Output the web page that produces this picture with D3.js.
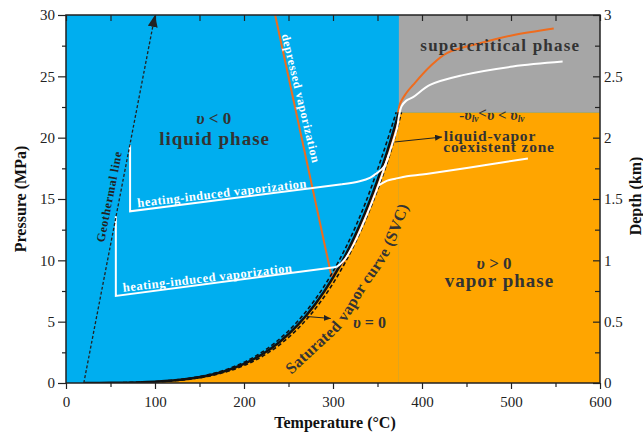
<!DOCTYPE html>
<html>
<head>
<meta charset="utf-8">
<script src="https://cdn.jsdelivr.net/npm/d3@7"></script>
<style>
body { margin: 0; background: #fff; }
svg text { font-family: "Liberation Serif", "Times New Roman", serif; }
</style>
</head>
<body>
<svg id="chart" width="643" height="433"></svg>
<script>
// saturated vapor curve of water (T in °C, P in MPa)
var svcT = [20, 50, 80, 100, 120, 140, 160, 180, 200, 220, 240, 260, 280, 300, 320, 340, 360, 374];
var svcP = [0.002, 0.012, 0.047, 0.101, 0.199, 0.361, 0.618, 1.003, 1.555, 2.320, 3.347, 4.692, 6.417, 8.588, 11.284, 14.601, 18.666, 22.064];
// dashed band either side of the SVC
var svcLoT = [20, 46, 76, 96, 116, 136, 156, 176, 196, 216, 236, 256, 276, 296, 316, 336, 356, 371];
var svcHiT = [20, 54, 84, 104, 124, 144, 164, 184, 204, 224, 244, 264, 284, 304, 324, 344, 364, 377];
var critT = 374, critP = 22.064;

// geothermal line
var geoT = [20, 100];
var geoP = [0, 30];

// depressed vaporization (orange)
var depLegT = [235, 298.5];
var depLegP = [30, 8.64];
var depT = [298.5, 305, 312, 322, 332, 342, 352, 362, 371, 375, 382, 390, 409, 428, 465, 502, 548];
var depP = [8.64, 9.3, 9.9, 11.3, 12.9, 14.6, 16.5, 18.7, 21.0, 22.7, 23.6, 24.3, 25.8, 26.9, 27.7, 28.35, 28.9];

// lower heating-induced path (white)
var lowLegT = [56, 56, 304];
var lowLegP = [13.6, 7.1, 9.45];
var lowT = [304, 309, 314, 323, 333, 343, 353, 363, 372, 374.5, 377, 382, 390, 409, 446, 502, 558];
var lowP = [9.45, 9.75, 10.15, 11.28, 12.86, 14.6, 16.53, 18.67, 20.8, 21.9, 22.55, 23.0, 23.3, 24.3, 25.1, 25.8, 26.2];

// upper heating-induced path (white)
var upLegT = [72, 72, 310];
var upLegP = [19.4, 14.0, 16.2];
var upT = [310, 330, 342, 350, 357, 363];
var upP = [16.2, 16.45, 16.75, 17.15, 17.6, 18.67];

// vapor branch after the upper path crosses the SVC (white)
var vapT = [351, 357, 361, 370, 383, 400, 420, 470, 519];
var vapP = [16.1, 16.35, 16.5, 16.65, 16.85, 17.0, 17.2, 17.75, 18.3];

// axes
var tempTicks = [0, 100, 200, 300, 400, 500, 600];
var tempMinor = [50, 150, 250, 350, 450, 550];
var pressTicks = [0, 5, 10, 15, 20, 25, 30];
var pressMinor = [2.5, 7.5, 12.5, 17.5, 22.5, 27.5];
var depthTicks = [0, 0.5, 1, 1.5, 2, 2.5, 3];
var depthMinor = [0.25, 0.75, 1.25, 1.75, 2.25, 2.75];

var blue = "#00AEEF", orange = "#FFA500", grey = "#A6A6A6", lineOrange = "#EE6C1E", ink = "#333";

var svg = d3.select("#chart");
var x = d3.scaleLinear().domain([0, 600]).range([66, 600]);
var y = d3.scaleLinear().domain([0, 30]).range([383, 15]);
var yd = d3.scaleLinear().domain([0, 3]).range([383, 15]);

function pts(ts, ps) { return ts.map(function(t, i) { return [t, ps[i]]; }); }

var lin = d3.line().x(function(d) { return x(d[0]); }).y(function(d) { return y(d[1]); });
var smooth = d3.line().curve(d3.curveCatmullRom.alpha(0.5)).x(function(d) { return x(d[0]); }).y(function(d) { return y(d[1]); });

var defs = svg.append("defs");
defs.append("clipPath").attr("id", "clip").append("rect")
  .attr("x", x(0)).attr("y", y(30)).attr("width", x(600) - x(0)).attr("height", y(0) - y(30));
defs.append("marker").attr("id", "bigHead").attr("markerUnits", "userSpaceOnUse")
  .attr("markerWidth", 12).attr("markerHeight", 10).attr("refX", 12).attr("refY", 5)
  .attr("orient", "auto")
  .append("path").attr("d", "M0,0 L12,5 L0,10 Z").attr("fill", "#222");
defs.append("marker").attr("id", "smallHead").attr("markerUnits", "userSpaceOnUse")
  .attr("markerWidth", 7).attr("markerHeight", 6).attr("refX", 7).attr("refY", 3)
  .attr("orient", "auto")
  .append("path").attr("d", "M0,0 L7,3 L0,6 Z").attr("fill", "#222");
// guide for the curved SVC caption
defs.append("path").attr("id", "svcLabelPath")
  .attr("d", smooth([[242.7, 0.57], [277.5, 2.93], [305.6, 4.89], [330.3, 7.74], [358.4, 10.84], [382, 15.16]]));

var plot = svg.append("g").attr("clip-path", "url(#clip)");

// phase regions
plot.append("rect").attr("x", x(0)).attr("y", y(30))
  .attr("width", x(600) - x(0)).attr("height", y(0) - y(30)).attr("fill", blue);
var area = d3.area().curve(d3.curveCatmullRom.alpha(0.5))
  .x(function(d) { return x(d[0]); }).y0(y(0)).y1(function(d) { return y(d[1]); });
plot.append("path").datum(pts(svcT, svcP)).attr("d", area).attr("fill", orange);
plot.append("rect").attr("x", x(critT)).attr("y", y(critP))
  .attr("width", x(600) - x(critT)).attr("height", y(0) - y(critP)).attr("fill", orange);
plot.append("rect").attr("x", x(critT)).attr("y", y(30))
  .attr("width", x(600) - x(critT)).attr("height", y(critP) - y(30)).attr("fill", grey);

// orange depressed vaporization
plot.append("path").datum(pts(depLegT, depLegP)).attr("d", lin)
  .attr("fill", "none").attr("stroke", lineOrange).attr("stroke-width", 2);
plot.append("path").datum(pts(depT, depP)).attr("d", smooth)
  .attr("fill", "none").attr("stroke", lineOrange).attr("stroke-width", 2);

// SVC with its dashed band
[svcLoT, svcHiT].forEach(function(ts) {
  plot.append("path").datum(pts(ts, svcP)).attr("d", smooth)
    .attr("fill", "none").attr("stroke", "#111").attr("stroke-width", 1.6)
    .attr("stroke-dasharray", "4,2.5");
});
plot.append("path").datum(pts(svcT, svcP)).attr("d", smooth)
  .attr("fill", "none").attr("stroke", "#111").attr("stroke-width", 2.5);

// white heating paths
[[lowLegT, lowLegP, lin], [lowT, lowP, smooth], [upLegT, upLegP, lin], [upT, upP, smooth], [vapT, vapP, smooth]]
  .forEach(function(s) {
    plot.append("path").datum(pts(s[0], s[1])).attr("d", s[2])
      .attr("fill", "none").attr("stroke", "#fff").attr("stroke-width", 2);
  });

// geothermal line
svg.append("path").datum(pts(geoT, geoP)).attr("d", lin)
  .attr("fill", "none").attr("stroke", "#222").attr("stroke-width", 1.3)
  .attr("stroke-dasharray", "3,2").attr("marker-end", "url(#bigHead)");

// small annotation arrows
function arrow(t0, p0, t1, p1) {
  svg.append("path").datum([[t0, p0], [t1, p1]]).attr("d", lin)
    .attr("stroke", "#222").attr("stroke-width", 1).attr("marker-end", "url(#smallHead)");
}
arrow(369.5, 19.65, 422.5, 20.05);
arrow(270.5, 5.42, 297.5, 5.26);

// axes
function styleAxis(g) {
  g.select(".domain").remove();
  g.selectAll("line").attr("stroke", "#222").attr("stroke-width", 1.2);
  g.selectAll("text").attr("font-size", 15).attr("fill", "#222")
    .style("font-family", '"Liberation Serif", "Times New Roman", serif');
}
svg.append("g").attr("transform", "translate(0," + y(0) + ")")
  .call(d3.axisBottom(x).tickValues(tempTicks).tickSize(6).tickPadding(7)).call(styleAxis);
svg.append("g").attr("transform", "translate(0," + y(0) + ")")
  .call(d3.axisBottom(x).tickValues(tempMinor).tickSize(4).tickFormat("")).call(styleAxis);
svg.append("g").attr("transform", "translate(0," + y(30) + ")")
  .call(d3.axisTop(x).tickValues(tempTicks.concat(tempMinor)).tickSize(-6).tickFormat("")).call(styleAxis);
svg.append("g").attr("transform", "translate(" + x(0) + ",0)")
  .call(d3.axisLeft(y).tickValues(pressTicks).tickSize(8).tickPadding(3)).call(styleAxis);
svg.append("g").attr("transform", "translate(" + x(0) + ",0)")
  .call(d3.axisLeft(y).tickValues(pressMinor).tickSize(4).tickFormat("")).call(styleAxis);
svg.append("g").attr("transform", "translate(" + x(600) + ",0)")
  .call(d3.axisRight(yd).tickValues(depthTicks).tickSize(-7).tickPadding(4).tickFormat(d3.format("~g"))).call(styleAxis);
svg.append("g").attr("transform", "translate(" + x(600) + ",0)")
  .call(d3.axisRight(yd).tickValues(depthMinor).tickSize(-5).tickFormat("")).call(styleAxis);

svg.append("rect").attr("x", x(0)).attr("y", y(30))
  .attr("width", x(600) - x(0)).attr("height", y(0) - y(30))
  .attr("fill", "none").attr("stroke", "#222").attr("stroke-width", 1.5);

// axis titles
svg.append("text").attr("x", 335).attr("y", 428).attr("text-anchor", "middle")
  .attr("font-size", 16).attr("font-weight", "bold").attr("fill", "#111").text("Temperature (°C)");
svg.append("text").attr("transform", "translate(26,199) rotate(-90)").attr("text-anchor", "middle")
  .attr("font-size", 16).attr("font-weight", "bold").attr("fill", "#111").text("Pressure (MPa)");
svg.append("text").attr("transform", "translate(641,196) rotate(-90)").attr("text-anchor", "middle")
  .attr("font-size", 16).attr("font-weight", "bold").attr("fill", "#111").text("Depth (km)");

// in-plot labels; parts are [text, italic, shift]
function label(t, p, parts, o) {
  var el = svg.append("text")
    .attr("x", x(t)).attr("y", y(p))
    .attr("text-anchor", o.anchor || "middle")
    .attr("font-size", o.size)
    .attr("font-weight", o.weight || "bold")
    .attr("fill", o.color || ink)
    .attr("letter-spacing", o.spacing || 0);
  if (o.rotate) el.attr("dy", "0.35em").attr("transform", "rotate(" + o.rotate + "," + x(t) + "," + y(p) + ")");
  if (typeof parts == "string") {
    el.text(parts);
    if (o.len) {
      // stretch the spacing so the caption spans the wanted length
      var natural = el.node().getComputedTextLength();
      el.attr("letter-spacing", (o.len - natural) / (parts.length - 1));
    }
    return el;
  }
  var shift = 0;
  parts.forEach(function(pt) {
    var ts = el.append("tspan").text(pt[0]);
    if (pt[1]) ts.attr("font-style", "italic");
    var want = pt[2] == "sub" ? 2.5 : pt[2] == "up" ? -1.5 : 0;
    if (pt[2] == "sub") ts.attr("font-size", o.size * 0.62);
    if (want != shift) { ts.attr("dy", want - shift); shift = want; }
  });
  return el;
}

label(166, 21.1, [["υ", 1], [" < 0"]], {size: 17});
label(167, 19.4, "liquid phase", {size: 19, spacing: 1});
label(488, 27.1, "supercritical phase", {size: 17, spacing: 1.2});
label(478.5, 21.45, [["-"], ["υ", 1], ["lv", 1, "sub"], ["<", 0, "up"], ["υ", 1], [" < "], ["υ", 1], ["lv", 1, "sub"]], {size: 15});
label(424.5, 19.75, "liquid-vapor", {size: 15.5, spacing: 0.8, anchor: "start"});
label(424, 18.8, "coexistent zone", {size: 15.5, spacing: 0.8, anchor: "start"});
label(481, 9.3, [["υ", 1], [" > 0"]], {size: 17});
label(487, 7.8, "vapor phase", {size: 19, spacing: 1});
label(341, 4.45, [["υ", 1], [" = 0"]], {size: 16});
label(264, 23.2, "depressed vaporization", {size: 12, color: "#fff", rotate: 76.5, len: 132});
label(48.3, 15.2, "Geothermal line", {size: 12, color: "#222", rotate: -79, len: 92});
label(175.3, 15.5, "heating-induced vaporization", {size: 12.5, color: "#fff", rotate: -6.7, len: 170});
label(159, 8.6, "heating-induced vaporization", {size: 12.5, color: "#fff", rotate: -6.7, len: 170});

// SVC caption follows the curve
svg.append("text").attr("font-size", 16).attr("font-weight", "bold").attr("fill", ink)
  .attr("dy", "0.35em")
  .append("textPath").attr("href", "#svcLabelPath").attr("startOffset", "50%")
  .attr("text-anchor", "middle").attr("textLength", 205).attr("lengthAdjust", "spacing")
  .text("Saturated vapor curve (SVC)");
</script>
</body>
</html>
